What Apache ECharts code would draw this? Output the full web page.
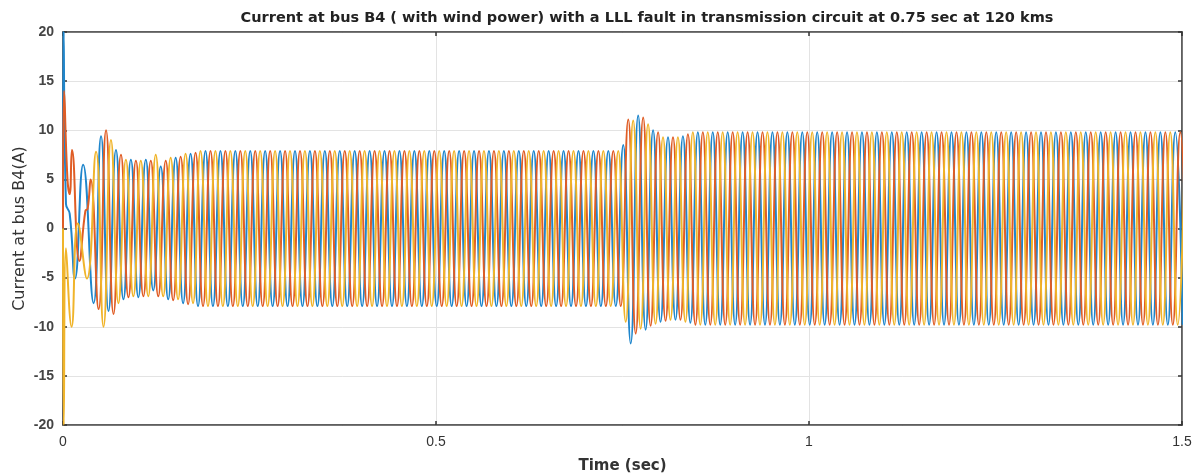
<!DOCTYPE html>
<html>
<head>
<meta charset="utf-8">
<script src="https://cdn.jsdelivr.net/npm/echarts@6/dist/echarts.min.js"></script>
<style>
  html, body { margin: 0; padding: 0; background: #fff; }
  #main { width: 1198px; height: 474px; }
</style>
</head>
<body>
<div id="main"></div>
<script>
// axis ticks
var xTicks = [0, 0.5, 1, 1.5];
var yTicks = [-20, -15, -10, -5, 0, 5, 10, 15, 20];

// first few ms of each phase, read point by point: [time (s), current (A)]
var headBlue = [[0, 0], [0.0008, 20], [0.004, 2.5], [0.009, 1.5], [0.016, -5.1], [0.027, 6.5], [0.041, -7.6]];
var headOrange = [[0, 0], [0.0015, 14], [0.006, 5], [0.009, 3.5], [0.012, 8], [0.022, -3.3], [0.03, 1.8], [0.033, 2], [0.037, 5]];
var headYellow = [[0, 0], [0.001, -20], [0.004, -2], [0.0115, -10], [0.02, 0.5], [0.032, -5.1]];

// after the head every half cycle (0.01 s) gives one peak, alternating sign
// peaks are stored as runs: [magnitude (A), number of half cycles]
var startBlue = 0.051, signBlue = 1;
var runsBlue = [[9.4, 1], [8.4, 1], [8.0, 1], [7.2, 1], [7.0, 3], [6.3, 2], [7.2, 2], [7.6, 2], [7.9, 57],
  [8.5, 1], [11.7, 1], [11.5, 1], [10.3, 1], [10.0, 1], [9.5, 1], [9.3, 2], [9.4, 1], [9.6, 1], [9.8, 66]];

var startOrange = 0.0477, signOrange = -1;
var runsOrange = [[8.2, 1], [10.0, 1], [8.7, 1], [7.5, 1], [7.0, 1], [6.9, 5], [7.3, 2], [7.7, 2], [7.9, 57],
  [11.1, 1], [10.7, 1], [11.3, 1], [9.9, 1], [9.8, 1], [9.4, 1], [9.3, 2], [9.6, 1], [9.8, 67]];

var startYellow = 0.0443, signYellow = 1;
var runsYellow = [[7.8, 1], [10.0, 1], [9.0, 1], [7.6, 1], [7.0, 1], [6.9, 3], [7.5, 1], [6.9, 1], [7.2, 2], [7.6, 2], [7.9, 57],
  [9.5, 1], [11.0, 1], [10.2, 1], [10.6, 1], [9.7, 1], [9.3, 3], [9.5, 1], [9.8, 67]];

function buildPhase(head, start, sign, runs) {
  var pts = head.slice();
  var k = 0;
  for (var i = 0; i < runs.length; i++) {
    for (var j = 0; j < runs[i][1]; j++) {
      pts.push([start + 0.01 * k, sign * runs[i][0]]);
      sign = -sign;
      k++;
    }
  }
  return pts;
}

var myChart = echarts.init(document.getElementById("main"));

var lineCommon = {
  type: "line",
  smooth: 0.5,
  symbol: "none",
  clip: true,
  silent: true
};

var tickStyle = { inside: true, length: 4, lineStyle: { color: "#333", width: 1.5 } };
var axisLine = { show: true, onZero: false, lineStyle: { color: "#555", width: 1.5 } };
var labelFont = { fontFamily: "Liberation Sans", fontSize: 14, fontWeight: "bold", color: "#444" };

var option = {
  animation: false,
  backgroundColor: "#fff",
  title: {
    text: "Current at bus B4 ( with wind power) with a LLL fault in transmission circuit at 0.75 sec at 120 kms",
    left: 642,
    textAlign: "center",
    top: 6,
    textStyle: { fontFamily: "DejaVu Sans", fontSize: 14.5, fontWeight: "bold", color: "#222" }
  },
  grid: {
    left: 63, right: 16, top: 32, bottom: 49,
    outerBoundsMode: "none",
    show: true, borderColor: "#555", borderWidth: 1.5, backgroundColor: "transparent"
  },
  xAxis: [
    {
      type: "value",
      min: xTicks[0],
      max: xTicks[xTicks.length - 1],
      interval: 0.5,
      name: "Time (sec)",
      nameLocation: "middle",
      nameGap: 34,
      nameTextStyle: { fontFamily: "DejaVu Sans", fontSize: 15, fontWeight: "bold", color: "#333" },
      axisLine: axisLine,
      axisTick: tickStyle,
      axisLabel: Object.assign({ margin: 10 }, labelFont, { fontWeight: "normal", color: "#333" }),
      splitLine: { show: true, lineStyle: { color: "#e3e3e3", width: 1 } }
    },
    {
      type: "value",
      position: "top",
      min: xTicks[0],
      max: xTicks[xTicks.length - 1],
      interval: 0.5,
      axisLine: axisLine,
      axisTick: tickStyle,
      axisLabel: { show: false },
      splitLine: { show: false }
    }
  ],
  yAxis: [
    {
      type: "value",
      min: yTicks[0],
      max: yTicks[yTicks.length - 1],
      interval: 5,
      name: "Current at bus B4(A)",
      nameLocation: "middle",
      nameGap: 35,
      nameMoveOverlap: false,
      nameTextStyle: { fontFamily: "DejaVu Sans", fontSize: 16, color: "#333" },
      axisLine: axisLine,
      axisTick: tickStyle,
      axisLabel: Object.assign({ margin: 9 }, labelFont),
      splitLine: { show: true, lineStyle: { color: "#e3e3e3", width: 1 } }
    },
    {
      type: "value",
      position: "right",
      min: yTicks[0],
      max: yTicks[yTicks.length - 1],
      interval: 5,
      axisLine: axisLine,
      axisTick: tickStyle,
      axisLabel: { show: false },
      splitLine: { show: false }
    }
  ],
  series: [
    Object.assign({}, lineCommon, {
      name: "Phase A",
      data: buildPhase(headBlue, startBlue, signBlue, runsBlue),
      lineStyle: { color: "#1f86cc", width: 2 }
    }),
    Object.assign({}, lineCommon, {
      name: "Phase B",
      data: buildPhase(headOrange, startOrange, signOrange, runsOrange),
      lineStyle: { color: "#e05d25", width: 2 }
    }),
    Object.assign({}, lineCommon, {
      name: "Phase C",
      data: buildPhase(headYellow, startYellow, signYellow, runsYellow),
      lineStyle: { color: "#f0b42a", width: 2 }
    })
  ]
};

myChart.setOption(option);
</script>
</body>
</html>
